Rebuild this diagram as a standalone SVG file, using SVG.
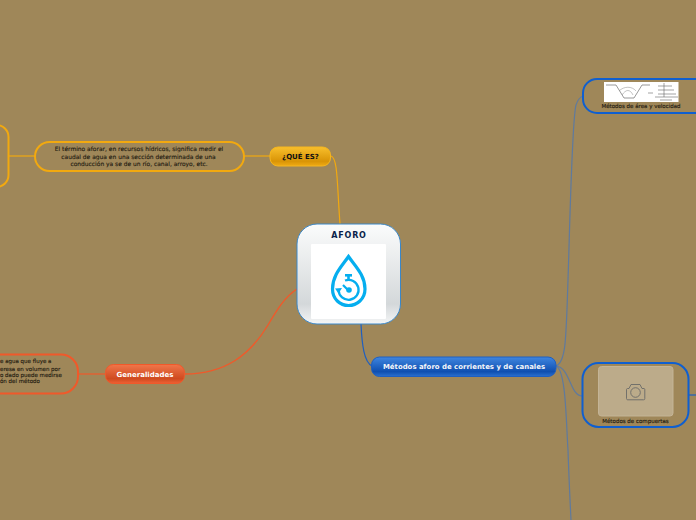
<svg xmlns="http://www.w3.org/2000/svg" width="696" height="520" viewBox="0 0 696 520">
<style>
.c{fill:none;stroke-width:1.2}
.t{font-family:"DejaVu Sans",sans-serif;text-anchor:middle}
.s{font-size:5.5px;fill:#1e1a10;stroke:#1e1a10;stroke-width:.12}
.l{font-size:5.95px}
.b{font-size:7px;font-weight:700}
.y{stroke:#f2a90f}.o{stroke:#f0592a}.u{stroke:#5f7a9e}
.n{fill:none;stroke-width:2}
</style>
<defs>
<linearGradient id="gy" x1="0" y1="0" x2="0" y2="1"><stop offset="0" stop-color="#f8bf2c"/><stop offset=".75" stop-color="#d99406"/><stop offset="1" stop-color="#f0ab14"/></linearGradient>
<linearGradient id="go" x1="0" y1="0" x2="0" y2="1"><stop offset="0" stop-color="#f0764a"/><stop offset=".75" stop-color="#cf4a1f"/><stop offset="1" stop-color="#ee6235"/></linearGradient>
<linearGradient id="gb" x1="0" y1="0" x2="0" y2="1"><stop offset="0" stop-color="#3f86e0"/><stop offset=".75" stop-color="#0f4fb0"/><stop offset="1" stop-color="#2a70d0"/></linearGradient>
<linearGradient id="gw" x1="0" y1="0" x2="0" y2="1"><stop offset="0" stop-color="#fbfcfc"/><stop offset=".8" stop-color="#d4d8da"/><stop offset="1" stop-color="#f4f6f6"/></linearGradient>
</defs>
<rect width="696" height="520" fill="#9f8759"/>
<g id="connectors">
<path class="c y" d="M331 156C338 158 337 185 340 224"/>
<path class="c y" d="M244 156H270"/>
<path class="c y" d="M8 156H35"/>
<path class="c o" style="stroke-width:1.4" d="M185 374C225 374 250 355 268 325C278 308 285 297 297 289"/>
<path class="c o" d="M78 374H105"/>
<path class="c" stroke="#1f5fc0" d="M361 324C362 345 364 362 372 366"/>
<path class="c u" d="M556 366C566 362 566 340 568 280C570 220 572 120 576 105C578 99 580 97 583 96"/>
<path class="c u" d="M556 366C570 367 570 396 582 396"/>
<path class="c u" d="M556 366C566 370 566 420 568 450C569 480 570 500 571 520"/>
<path class="c" stroke="#1f5fc0" d="M689 395H696"/>
</g>
<g id="n-aforo">
<rect x="297" y="224" width="103.500" height="100" rx="20" fill="url(#gw)" stroke="#3a87c8" stroke-width="1"/>
<rect x="311" y="244" width="75" height="75" rx="1" fill="#fff"/>
<text class="t" x="349" y="238" font-size="8" font-weight="700" letter-spacing=".8" fill="#0a1f4a">AFORO</text>
<path d="M348.500 256.500C342 266 332.500 275 332.500 289C332.500 299 340 305.500 348.500 305.500C357 305.500 365 299 365 289C365 275 355 266 348.500 256.500Z" fill="none" stroke="#05aeef" stroke-width="3.200"/>
<path d="M345 280.500A10 10 0 1 1 338.600 290" fill="none" stroke="#05aeef" stroke-width="2.300"/>
<path d="M335 288.500L342 288L338.500 293.500Z" fill="#05aeef"/>
<path d="M343 285L349 291" fill="none" stroke="#05aeef" stroke-width="2.200"/>
<circle cx="349" cy="290" r="2.800" fill="#05aeef"/>
<rect x="345" y="274" width="7" height="2.600" fill="#05aeef"/>
<rect x="347.200" y="276" width="2.600" height="3.500" fill="#05aeef"/>
</g>
<g id="n-que">
<rect x="270" y="147" width="60.500" height="19" rx="8" fill="url(#gy)" stroke="#f5b51e" stroke-width="1"/>
<text class="t b" x="300.500" y="159" fill="#111">¿QUÉ ES?</text>
</g>
<g id="n-termino">
<rect x="35" y="142" width="209" height="29" rx="14.500" class="n" stroke="#f2a90f"/>
<text class="t s l" x="139" y="151">El término aforar, en recursos hídricos, significa medir el</text>
<text class="t s l" x="138.500" y="159">caudal de agua en una sección determinada de una</text>
<text class="t s l" x="139" y="166">conducción ya se de un río, canal, arroyo, etc.</text>
</g>
<g id="n-left-top">
<rect x="-40" y="125" width="48.500" height="62" rx="12" class="n" stroke="#f2a90f"/>
</g>
<g id="n-gen">
<rect x="105.500" y="364.500" width="79" height="19" rx="8" fill="url(#go)" stroke="#f0592a" stroke-width="1"/>
<text class="t b" x="145" y="377" fill="#fff">Generalidades</text>
</g>
<g id="n-left-gen">
<rect x="-60" y="354.500" width="138" height="39" rx="17" class="n" stroke="#f0592a"/>
<g class="s" font-family="DejaVu Sans, sans-serif">
<text x="0" y="363">e agua que fluye a</text>
<text x="0" y="370.500">eresa en volumen por</text>
<text x="0" y="377">o dado puede medirse</text>
<text x="0" y="383">ón del método</text>
</g>
</g>
<g id="n-metodos">
<rect x="371.500" y="357" width="184.500" height="19.500" rx="8" fill="url(#gb)" stroke="#1f5fc0" stroke-width="1"/>
<text class="t b" x="464" y="369" fill="#f4f6fa" style="font-size:6.950px">Métodos aforo de corrientes y de canales</text>
</g>
<g id="n-area">
<rect x="583" y="79" width="140" height="34" rx="14" class="n" stroke="#0f5fd0"/>
<rect x="604" y="82" width="74.500" height="20" fill="#fff"/>
<path d="M606 85H616L624 98H634L642 85H650" fill="none" stroke="#555" stroke-width=".6"/>
<path d="M619 91C624 86 632 86 636 91M622 95C626 89 630 89 633 95" fill="none" stroke="#888" stroke-width=".5"/>
<path d="M648 93H653M658 86H672M658 90H674M658 94H676M655 97H678M660 100H672M664 83V97" fill="none" stroke="#666" stroke-width=".6"/>
<text class="t s" x="641" y="107.500">Métodos de área y velocidad</text>
</g>
<g id="n-comp">
<rect x="582.500" y="363" width="106" height="64" rx="16" class="n" stroke="#0f5fd0"/>
<rect x="598.500" y="366.500" width="74.500" height="49.500" rx="3" fill="#bcab8a" stroke="#c4b496" stroke-width="1"/>
<path d="M629 388.500L631 384.500H640L642 388.500H644C644.500 388.500 644.800 389 644.800 389.500V398.500C644.800 399.500 644.500 399.800 643.500 399.800H628C627 399.800 626.500 399.500 626.500 398.500V389.500C626.500 389 627 388.500 627.500 388.500Z" fill="none" stroke="#6a6a68" stroke-width=".9"/>
<circle cx="635.500" cy="392.500" r="4.800" fill="none" stroke="#6a6a68" stroke-width=".9"/>
<text class="t s" x="635.500" y="423">Métodos de compuertas</text>
</g>
</svg>
